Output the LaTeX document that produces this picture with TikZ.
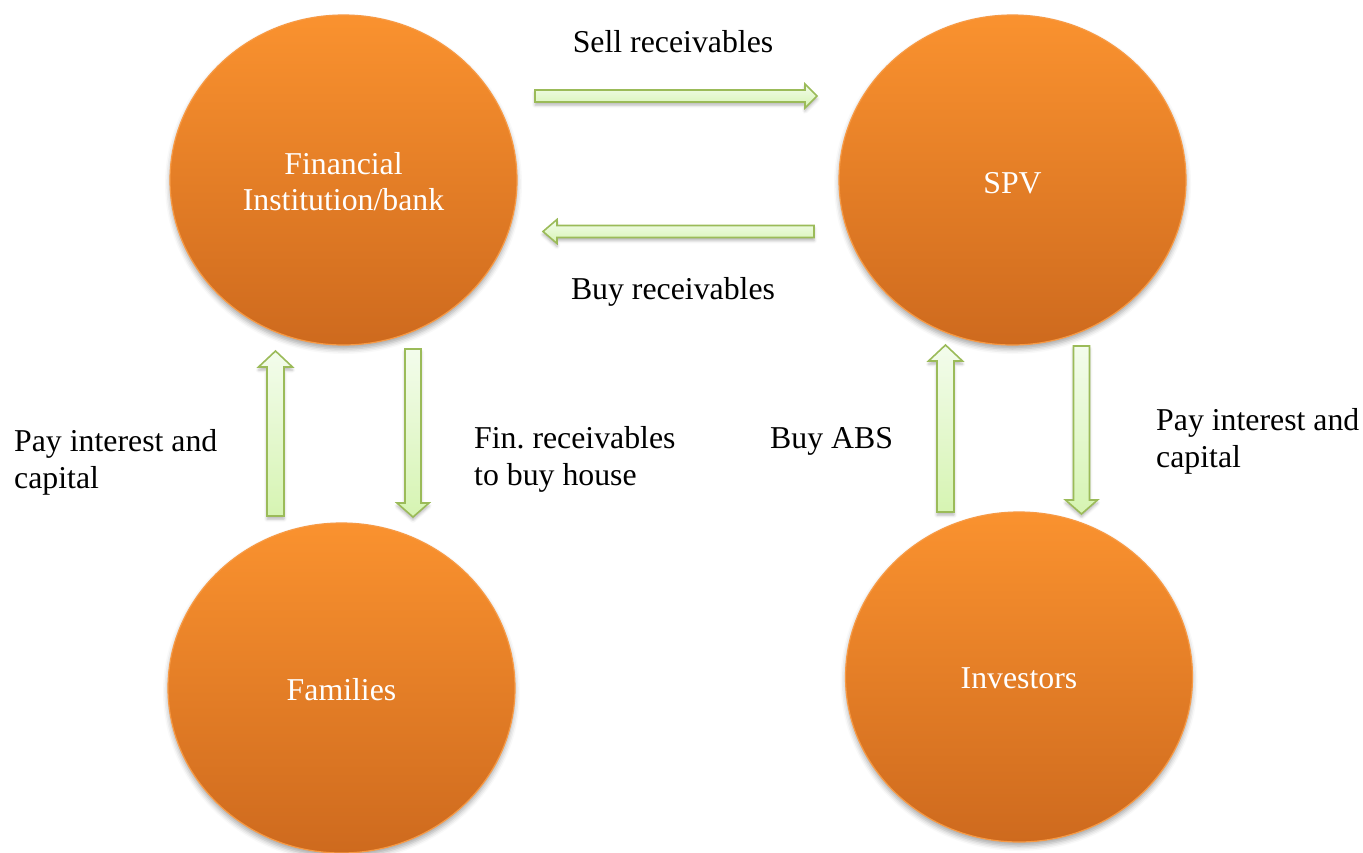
\documentclass[tikz,border=0pt]{standalone}
\usepackage{fontspec}
\setmainfont{Liberation Serif}
\frenchspacing
\usetikzlibrary{shapes.geometric,calc,shadows.blur}
\definecolor{orT}{HTML}{FA922F}
\definecolor{orB}{HTML}{CE6A1E}
\definecolor{orLine}{HTML}{F79A45}
\definecolor{grLine}{HTML}{9BBB59}
\definecolor{grT}{HTML}{F3FCEC}
\definecolor{grB}{HTML}{D6F4B2}
\tikzset{
  blob/.style={ellipse, minimum width=347pt, minimum height=330pt, inner sep=0pt,
    top color=orT, bottom color=orB, draw=orLine, line width=1.2pt,
    blur shadow={shadow xshift=0pt, shadow yshift=-4pt, shadow blur radius=5pt, shadow opacity=35}},
  blobtext/.style={text=white, font=\fontsize{31.8}{36.5}\selectfont, align=center, inner sep=0pt, anchor=base},
  lbl/.style={text=black, font=\fontsize{31.8}{36.5}\selectfont, align=left, inner sep=0pt, anchor=base west},
  blockarrow/.style={draw=grLine, line width=1.6pt, top color=grT, bottom color=grB, line join=miter,
    blur shadow={shadow xshift=0pt, shadow yshift=-3pt, shadow blur radius=3pt, shadow opacity=30}}
}
% #1 start, #2 tip, #3 half shaft, #4 half head, #5 head length
\newcommand\blockarr[5]{%
  \path ($(#2)!#5!(#1)$) coordinate (hb);
  \path[blockarrow] ($(#1)!#3!90:(#2)$) -- ($(hb)!#3!90:(#2)$) -- ($(hb)!#4!90:(#2)$) -- (#2)
    -- ($(hb)!#4!-90:(#2)$) -- ($(hb)!#3!-90:(#2)$) -- ($(#1)!#3!-90:(#2)$) -- cycle;
}
\begin{document}
\begin{tikzpicture}[x=1pt,y=-1pt]
\useasboundingbox (0,0) rectangle (1363,852);
% circles
\node[blob] (fi) at (343.5,180) {};
\node[blob] (spv) at (1012.5,180) {};
\node[blob] (fam) at (341.5,688) {};
\node[blob] (inv) at (1019,677) {};
\node[blobtext] (fit) at (343.5,210) {Financial\\[-1pt]Institution/bank};
\node[blobtext] (spvt) at (1012.5,193) {SPV};
\node[blobtext] (famt) at (341.5,700) {Families};
\node[blobtext] (invt) at (1019,688) {Investors};
% arrow end points
\coordinate (s1) at (535,96);   \coordinate (t1) at (817,96);
\coordinate (s2) at (814,231.5); \coordinate (t2) at (543,231.5);
\coordinate (s3) at (275.5,516); \coordinate (t3) at (275.5,351);
\coordinate (s4) at (413,349);   \coordinate (t4) at (413,517);
\coordinate (s5) at (945.5,512); \coordinate (t5) at (945.5,345);
\coordinate (s6) at (1081.5,346); \coordinate (t6) at (1081.5,514);
\blockarr{s1}{t1}{6pt}{12pt}{12pt}
\blockarr{s2}{t2}{6pt}{12pt}{14pt}
\blockarr{s3}{t3}{8.5pt}{17pt}{16pt}
\blockarr{s4}{t4}{8pt}{16pt}{14pt}
\blockarr{s5}{t5}{8.5pt}{17pt}{16pt}
\blockarr{s6}{t6}{8pt}{16pt}{14pt}
% labels
\node[lbl, anchor=base] (l1) at (673,52) {Sell receivables};
\node[lbl, anchor=base] (l2) at (673,299) {Buy receivables};
\node[lbl] (l3) at (14,488) {Pay interest and\\capital};
\node[lbl] (l4) at (474,485) {Fin. receivables\\to buy house};
\node[lbl] (l5) at (770,448) {Buy ABS};
\node[lbl] (l6) at (1156,467) {Pay interest and\\capital};
\end{tikzpicture}
\end{document}
